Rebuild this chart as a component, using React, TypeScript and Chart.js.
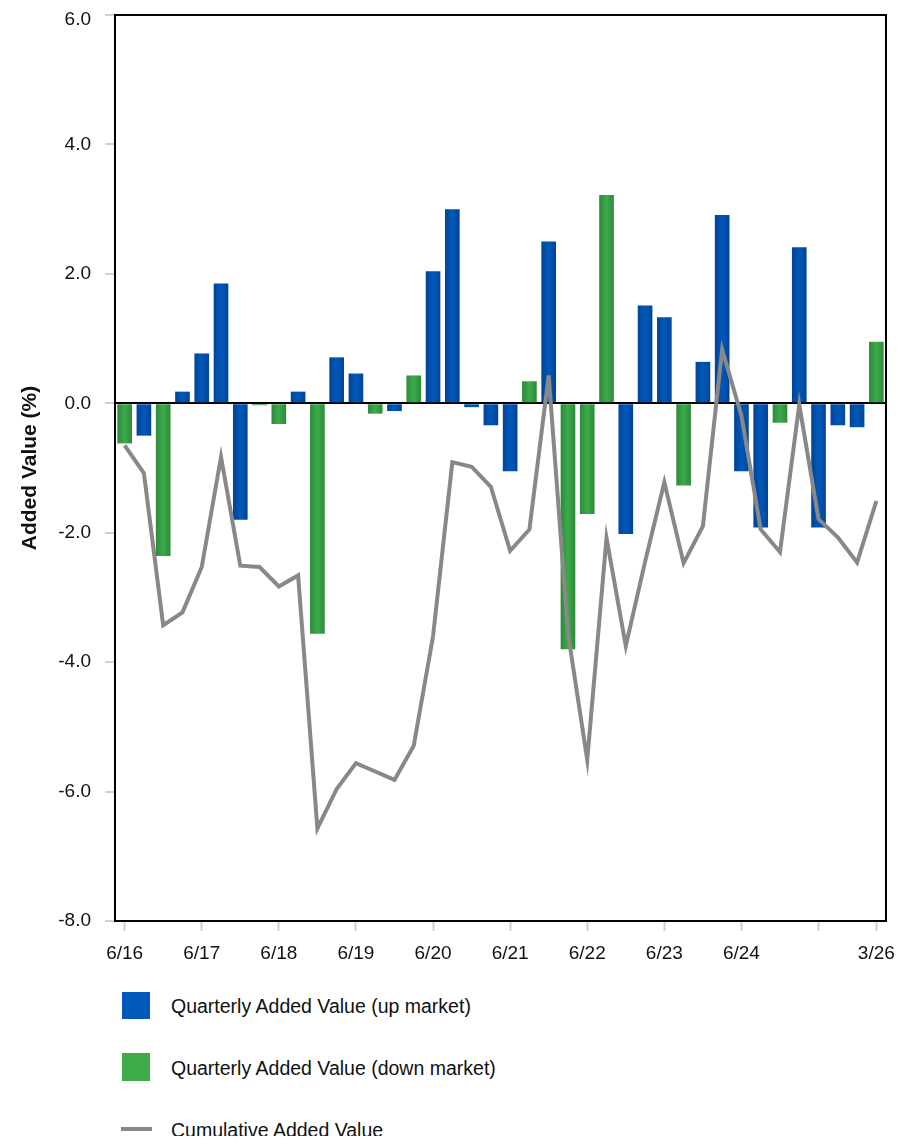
import React, { useEffect, useRef } from "react";
import { Chart, registerables } from "chart.js";

Chart.register(...registerables);

const quarters = [
  "6/16", "9/16", "12/16", "3/17", "6/17", "9/17", "12/17", "3/18",
  "6/18", "9/18", "12/18", "3/19", "6/19", "9/19", "12/19", "3/20",
  "6/20", "9/20", "12/20", "3/21", "6/21", "9/21", "12/21", "3/22",
  "6/22", "9/22", "12/22", "3/23", "6/23", "9/23", "12/23", "3/24",
  "6/24", "9/24", "12/24", "3/25", "6/25", "9/25", "12/25", "3/26",
];

const labeledTicks = ["6/16", "6/17", "6/18", "6/19", "6/20", "6/21", "6/22", "6/23", "6/24", "3/26"];
const markedTicks = ["6/16", "6/17", "6/18", "6/19", "6/20", "6/21", "6/22", "6/23", "6/24", "6/25", "3/26"];

const upMarket = [
  null, -0.5, null, 0.18, 0.77, 1.85, -1.8, null, null, 0.18,
  null, 0.71, 0.46, null, -0.12, null, 2.04, 3.0, -0.06, -0.34,
  -1.05, null, 2.5, null, null, null, -2.02, 1.51, 1.33, null,
  0.64, 2.91, -1.05, -1.92, null, 2.41, -1.92, -0.34, -0.37, null,
];

const downMarket = [
  -0.62, null, -2.36, null, null, null, null, -0.03, -0.32, null,
  -3.56, null, null, -0.16, null, 0.43, null, null, null, null,
  null, 0.34, null, -3.8, -1.71, 3.22, null, null, null, -1.27,
  null, null, null, null, -0.3, null, null, null, null, 0.95,
];

const cumulative = [
  -0.65, -1.08, -3.43, -3.23, -2.53, -0.83, -2.51, -2.53, -2.83, -2.66,
  -6.57, -5.96, -5.56, -5.69, -5.82, -5.29, -3.6, -0.91, -0.98, -1.29,
  -2.28, -1.95, 0.43, -3.55, -5.51, -2.08, -3.75, -2.45, -1.22, -2.47,
  -1.9, 0.83, -0.19, -1.95, -2.3, -0.02, -1.79, -2.07, -2.46, -1.51,
];

const yMin = -8;
const yMax = 6;
const yStep = 2;

const BAR_PCT = 0.76;
const FONT = "'Liberation Sans', Arial, Helvetica, sans-serif";

const BLUE_DARK = "#00449a";
const BLUE_LIGHT = "#0059b8";
const GREEN_DARK = "#2c8a3a";
const GREEN_LIGHT = "#3dab4a";

function barFill(dark: string, light: string) {
  return (ctx: any) => {
    const chart = ctx.chart;
    const area = chart.chartArea;
    if (!area || ctx.type !== "data") return light;
    const xs = chart.scales.x;
    const cx = xs.getPixelForValue(ctx.dataIndex);
    const w = ((area.right - area.left) / quarters.length) * BAR_PCT;
    const g = chart.ctx.createLinearGradient(cx - w / 2, 0, cx + w / 2, 0);
    g.addColorStop(0, dark);
    g.addColorStop(0.5, light);
    g.addColorStop(1, dark);
    return g;
  };
}

const framePlugin = {
  id: "frame",
  afterDraw(chart: any) {
    const { ctx, chartArea } = chart;
    ctx.save();
    ctx.strokeStyle = "#000";
    ctx.lineWidth = 2;
    ctx.strokeRect(chartArea.left, chartArea.top, chartArea.right - chartArea.left, chartArea.bottom - chartArea.top);
    ctx.restore();
  },
};

export default function App() {
  const canvasRef = useRef<HTMLCanvasElement | null>(null);

  useEffect(() => {
    if (!canvasRef.current) return;
    const chart = new Chart(canvasRef.current, {
      type: "bar",
      data: {
        labels: quarters,
        datasets: [
          {
            type: "line",
            label: "Cumulative Added Value",
            data: cumulative,
            borderColor: "#888888",
            borderWidth: 4,
            pointRadius: 0,
            fill: false,
            tension: 0,
            order: 0,
          } as any,
          {
            type: "bar",
            label: "Quarterly Added Value (up market)",
            data: upMarket,
            backgroundColor: barFill(BLUE_DARK, BLUE_LIGHT),
            borderWidth: 0,
            grouped: false,
            barPercentage: BAR_PCT,
            categoryPercentage: 1,
            order: 1,
          } as any,
          {
            type: "bar",
            label: "Quarterly Added Value (down market)",
            data: downMarket,
            backgroundColor: barFill(GREEN_DARK, GREEN_LIGHT),
            borderWidth: 0,
            grouped: false,
            barPercentage: BAR_PCT,
            categoryPercentage: 1,
            order: 1,
          } as any,
        ],
      },
      options: {
        responsive: false,
        maintainAspectRatio: false,
        animation: false,
        events: [],
        layout: { padding: { top: 15, left: 0, right: 23, bottom: 7 } },
        plugins: {
          legend: { display: false },
          tooltip: { enabled: false },
        },
        scales: {
          x: {
            offset: true,
            grid: {
              offset: false,
              drawOnChartArea: false,
              tickLength: 10,
              tickWidth: 2,
              tickColor: (ctx: any) =>
                markedTicks.includes(quarters[ctx.index]) ? "#d0d0d0" : "rgba(0,0,0,0)",
            },
            border: { display: false },
            ticks: {
              autoSkip: false,
              maxRotation: 0,
              minRotation: 0,
              padding: 11,
              color: "#111",
              font: { family: FONT, size: 19 },
              callback: (_v: any, i: number) => (labeledTicks.includes(quarters[i]) ? quarters[i] : ""),
            },
            afterFit: (scale: any) => {
              scale.height = 50;
              scale.paddingLeft = 0;
              scale.paddingRight = 0;
            },
          },
          y: {
            min: yMin,
            max: yMax,
            grid: {
              color: (ctx: any) => (ctx.tick && ctx.tick.value === 0 ? "#000" : "rgba(0,0,0,0)"),
              lineWidth: 2,
              tickLength: 10,
              tickWidth: 2,
              tickColor: "#d0d0d0",
            },
            border: { display: false },
            ticks: {
              stepSize: yStep,
              padding: 14,
              color: "#111",
              font: (ctx: any) => ({
                family: FONT,
                size: 19,
                lineHeight: ctx.tick && ctx.tick.value === yMax ? 0.47 : 1.2,
              }),
              callback: (v: any) => (Number(v) === yMax ? ["", Number(v).toFixed(1)] : Number(v).toFixed(1)),
            },
            title: {
              display: true,
              text: "Added Value (%)",
              color: "#111",
              font: { family: FONT, size: 21, weight: "bold" },
              padding: { top: 10, bottom: 0 },
            },
            afterFit: (scale: any) => {
              scale.width = 107;
              scale.paddingTop = 0;
              scale.paddingBottom = 0;
            },
          },
        },
      } as any,
      plugins: [framePlugin],
    });
    return () => chart.destroy();
  }, []);

  const textStyle: React.CSSProperties = {
    position: "absolute",
    left: 163,
    height: 24,
    lineHeight: "24px",
    fontFamily: FONT,
    fontSize: 19.5,
    color: "#111",
    whiteSpace: "nowrap",
  };

  return (
    <div style={{ position: "relative", width: 901, height: 1136, marginTop: -8 }}>
      <canvas ref={canvasRef} width={901} height={978} style={{ display: "block" }} />
      <div style={{ position: "absolute", left: 114, top: 992, width: 28, height: 27, background: BLUE_LIGHT }} />
      <div style={{ ...textStyle, top: 1006 - 12 }}>Quarterly Added Value (up market)</div>
      <div style={{ position: "absolute", left: 114, top: 1053, width: 28, height: 28, background: GREEN_LIGHT }} />
      <div style={{ ...textStyle, top: 1068 - 12 }}>Quarterly Added Value (down market)</div>
      <div style={{ position: "absolute", left: 113, top: 1127, width: 31, height: 4, background: "#888888" }} />
      <div style={{ ...textStyle, top: 1130 - 12 }}>Cumulative Added Value</div>
    </div>
  );
}
